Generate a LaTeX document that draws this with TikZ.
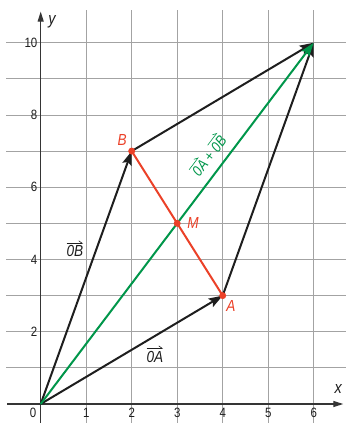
\documentclass[tikz,border=0pt]{standalone}
\usepackage{fontspec}
\setmainfont{Liberation Sans}[FakeStretch=0.85]
\usetikzlibrary{arrows.meta}
\definecolor{vblack}{HTML}{1E1E1E}
\definecolor{vgreen}{HTML}{00964A}
\definecolor{vred}{HTML}{EB4128}
\definecolor{gridgray}{HTML}{A3A3A3}
\newcommand{\vecl}[1]{\tikz[baseline=(vt.base)]{\node[inner sep=0pt,outer sep=0pt] (vt) {\itshape #1}; \draw[line width=0.6pt,-{Straight Barb[left,length=3.5pt,width=5pt]}] ([yshift=2.5pt]vt.north west) -- ([yshift=2.5pt]vt.north east);}}
\begin{document}
\begin{tikzpicture}[x=45.5pt,y=36.13pt,
  gridline/.style={draw=gridgray,line width=0.9pt},
  axisline/.style={draw=vblack!90,line width=1.1pt,-{Triangle[length=10pt,width=6pt]}},
  vecarrow/.style={line width=2pt,-{Stealth[length=14pt,width=9.5pt,inset=2.5pt]}},
  blackvec/.style={vecarrow,draw=vblack},
  greenvec/.style={vecarrow,draw=vgreen},
  redseg/.style={draw=vred,line width=2pt},
  reddot/.style={circle,fill=vred,inner sep=0pt,minimum size=7pt},
  ticklabel/.style={font=\fontsize{13.5}{13.5}\selectfont,inner sep=0pt,text=vblack},
  pointlabel/.style={font=\fontsize{16}{16}\selectfont\itshape,text=vred,inner sep=0pt},
  veclabel/.style={font=\fontsize{16}{16}\selectfont,text=vblack,inner sep=0pt},
  axislabel/.style={font=\fontsize{17}{17}\selectfont\itshape,text=vblack,inner sep=0pt}
]
\useasboundingbox (-0.8945,-0.5259) rectangle (6.710,11.182);
% grid
\foreach \i in {1,...,6} \draw[gridline] (\i,-0.53) -- (\i,10.9);
\foreach \j in {1,...,10} \draw[gridline] (-0.76,\j) -- (6.71,\j);
% axes
\coordinate (xs) at (-0.74,0);
\coordinate (xe) at (6.65,0);
\coordinate (ys) at (0,-0.53);
\coordinate (ye) at (0,10.86);
\draw[axisline] (xs) -- (xe);
\draw[axisline] (ys) -- (ye);
\node[axislabel] (xl) at (6.54,0.415) {x};
\node[axislabel] (yl) at (0.25,10.57) {y};
% tick labels
\node[ticklabel] (t0) at (-0.17,-0.25) {0};
\foreach \i in {1,...,6} \node[ticklabel] (tx\i) at (\i,-0.25) {\i};
\foreach \j in {2,4,6,8,10} \node[ticklabel,anchor=east] (ty\j) at (-0.07,\j) {\j};
% points
\coordinate (O) at (0,0);
\coordinate (A) at (4,3);
\coordinate (B) at (2,7);
\coordinate (C) at (6,10);
\coordinate (M) at (3,5);
% vectors
\draw[blackvec] (O) -- (A);
\draw[blackvec] (O) -- (B);
\draw[blackvec] (B) -- (C);
\draw[blackvec] (A) -- (C);
\draw[greenvec] (O) -- (C);
\draw[redseg] (B) -- (A);
\node[reddot] (dA) at (A) {};
\node[reddot] (dB) at (B) {};
\node[reddot] (dM) at (M) {};
% labels
\node[pointlabel] (lA) at (4.18,2.71) {A};
\node[pointlabel] (lB) at (1.79,7.31) {B};
\node[pointlabel] (lM) at (3.35,5.02) {M};
\node[veclabel,anchor=base] (lOA) at (2.51,1.16) {\vecl{0A}};
\node[veclabel,anchor=base] (lOB) at (0.75,4.07) {\vecl{0B}};
\node[veclabel,text=vgreen,rotate=52.9,font=\fontsize{15}{15}\selectfont] (lOC) at (3.66,6.91) {\vecl{0A} + \vecl{0B}};
\end{tikzpicture}
\end{document}
